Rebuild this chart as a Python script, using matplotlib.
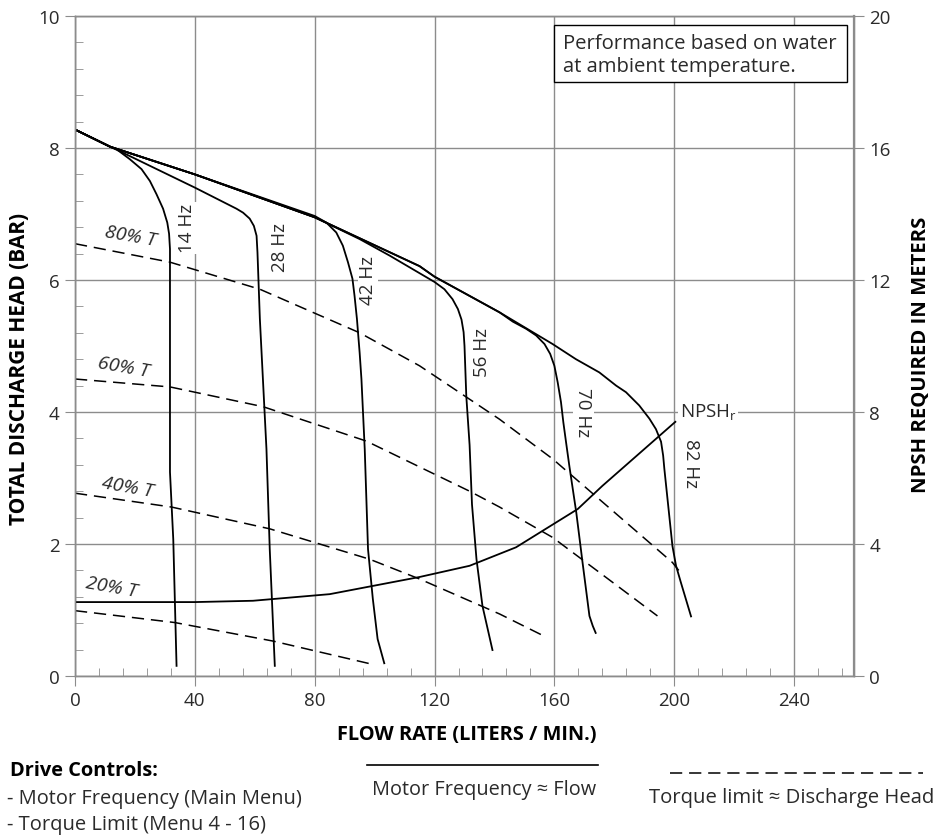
import numpy as np
import matplotlib
matplotlib.use("Agg")
from matplotlib import pyplot as plt
from matplotlib.lines import Line2D
from matplotlib.patches import Rectangle

plt.rcParams['font.family'] = ['Open Sans', 'DejaVu Sans']

# flow (l/min) vs discharge head (bar) for each motor frequency
hz14_x = [0, 11.7, 13.9, 18.3, 22.2, 25, 27.2, 29.4, 30.8, 31.4, 31.7, 31.7, 31.7, 32.8, 33.9]
hz14_y = [8.28, 8.02, 7.98, 7.83, 7.68, 7.5, 7.3, 7.08, 6.87, 6.7, 6.47, 5.41, 3.09, 2.07, 0.14]
hz28_x = [0, 11.7, 15, 40, 53.9, 56.1, 58.3, 59.7, 60.6, 60.9, 61.7, 63.9, 65, 66.7]
hz28_y = [8.28, 8.02, 7.95, 7.4, 7.08, 7.02, 6.93, 6.82, 6.67, 6.42, 5.41, 3.44, 1.92, 0.14]
hz42_x = [0, 11.7, 40, 80, 83.9, 87.2, 89.4, 91.1, 92.6, 93.3, 94.1, 95, 95.6, 96.7, 97.8, 99.4, 101, 103.3]
hz42_y = [8.28, 8.02, 7.6, 6.97, 6.87, 6.72, 6.52, 6.27, 6.02, 5.76, 5.41, 4.9, 4.5, 3.44, 1.92, 1.17, 0.56, 0.18]
hz56_x = [0, 11.7, 40, 80, 95, 105, 120, 123.3, 126, 127.8, 129, 129.7, 130, 130.6, 131.7, 132.5, 134, 136, 139.4]
hz56_y = [8.28, 8.02, 7.6, 6.95, 6.62, 6.37, 5.97, 5.86, 5.71, 5.56, 5.4, 5.21, 5.0, 4.24, 3.5, 2.6, 1.77, 1.06, 0.38]
hz70_x = [0, 11.7, 40, 80, 115, 120, 141.7, 146.1, 150.6, 153.9, 156.7, 158.6, 160, 161.1, 162.2,
          163, 163.9, 165, 167.3, 169.4, 171.7, 172.8, 173.9]
hz70_y = [8.28, 8.02, 7.6, 6.95, 6.21, 6.05, 5.51, 5.37, 5.26, 5.16, 5.03, 4.88, 4.7, 4.45, 4.15,
          3.84, 3.54, 3.18, 2.48, 1.72, 0.91, 0.76, 0.64]
hz82_x = [0, 11.7, 40, 80, 115, 120, 141.7, 159.4, 167.2, 175, 180.6, 183.9, 188.3, 191.7, 193.9,
          195.6, 196.3, 196.7, 197.3, 199.4, 200.6, 202.2, 205.7]
hz82_y = [8.28, 8.02, 7.6, 6.95, 6.21, 6.05, 5.51, 5.03, 4.8, 4.6, 4.4, 4.3, 4.1, 3.9, 3.74,
          3.55, 3.34, 3.14, 2.88, 1.97, 1.67, 1.42, 0.89]

# torque limit lines
t80_x = [0, 31.7, 61.7, 95, 115, 141.7, 159.4, 199.4, 201.5]
t80_y = [6.55, 6.27, 5.86, 5.2, 4.7, 3.89, 3.29, 1.72, 1.6]
t60_x = [0, 31.7, 62.8, 97.2, 131.7, 141.7, 159.4, 175, 194.4]
t60_y = [4.5, 4.38, 4.08, 3.56, 2.8, 2.56, 2.1, 1.57, 0.91]
t40_x = [0, 32.2, 65, 98.3, 115, 141.7, 157.2]
t40_y = [2.77, 2.56, 2.23, 1.77, 1.47, 0.94, 0.59]
t20_x = [0, 33.3, 66, 99]
t20_y = [0.99, 0.81, 0.53, 0.18]

# NPSH required (meters)
npsh_x = [0, 40, 59.4, 85, 115, 131.7, 147.2, 167.8, 176, 200.6]
npsh_m = [2.24, 2.24, 2.28, 2.48, 3.0, 3.34, 3.9, 5.06, 5.76, 7.72]

W, H = 950, 837
fig = plt.figure(figsize=(W / 100, H / 100), dpi=100)
ax = fig.add_axes([75 / W, 1 - 677 / H, 779 / W, 660 / H])
ax2 = ax.twinx()

grey = '#8c8c8c'
txt = '#2a2a2a'


def fit(t, target, dim='w'):
    # scale a text's font so that its drawn size matches the reference (px)
    fig.canvas.draw()
    bb = t.get_window_extent()
    cur = bb.width if dim == 'w' else bb.height
    t.set_fontsize(t.get_fontsize() * target / cur)


ax.set_xlim(0, 260)
ax.set_ylim(0, 10)
ax2.set_ylim(0, 20)
ax.set_xticks([0, 40, 80, 120, 160, 200, 240])
ax.set_xticks(np.arange(0, 261, 8), minor=True)
ax.set_yticks([0, 2, 4, 6, 8, 10])
ax.set_yticks(np.arange(0, 10.01, 0.4), minor=True)
ax2.set_yticks([0, 4, 8, 12, 16, 20])
ax.grid(True, which='major', color=grey, lw=1.0)
ax.set_axisbelow(True)
ax.tick_params(which='major', direction='out', length=7, color=grey, labelsize=13.5,
               labelcolor=txt, pad=4)
ax.tick_params(which='minor', direction='in', length=6, color=grey)
ax2.tick_params(which='major', direction='out', length=7, color=grey, labelsize=13.5,
                labelcolor=txt, pad=4)
for a in (ax, ax2):
    for s in a.spines.values():
        s.set_color(grey)
        s.set_linewidth(1.0)
ax2.spines['right'].set_linewidth(1.6)

kw = dict(color='black', lw=1.3, solid_capstyle='butt', solid_joinstyle='round')
for xs, ys in [(hz14_x, hz14_y), (hz28_x, hz28_y), (hz42_x, hz42_y),
               (hz56_x, hz56_y), (hz70_x, hz70_y), (hz82_x, hz82_y)]:
    ax.plot(xs, ys, **kw)

dash = (0, (8, 4.5))
for xs, ys in [(t80_x, t80_y), (t60_x, t60_y), (t40_x, t40_y), (t20_x, t20_y)]:
    ax.plot(xs, ys, color='black', lw=1.1, linestyle=dash)

ax2.plot(npsh_x, npsh_m, **kw)

# curve labels
box = dict(facecolor='white', edgecolor='none', pad=1)
hz_kw = dict(ha='center', va='center', fontsize=13.5, color=txt, bbox=box)
ax.text(37.5, 6.79, '14 Hz', rotation=90, **hz_kw)
ax.text(68.5, 6.5, '28 Hz', rotation=90, **hz_kw)
ax.text(97.8, 6.0, '42 Hz', rotation=90, **hz_kw)
ax.text(135.8, 4.92, '56 Hz', rotation=90, **hz_kw)
ax.text(169.7, 4.0, '70 Hz', rotation=-90, **hz_kw)
ax.text(205.5, 3.23, '82 Hz', rotation=-90, **hz_kw)
ax.text(201.8, 4.0, r'NPSH$_\mathregular{r}$', ha='left', va='center', fontsize=13.5,
        color=txt, bbox=box)

for lab, x, y in [('80% T', 18.6, 6.67), ('60% T', 16.3, 4.69), ('40% T', 17.5, 2.87),
                  ('20% T', 12.3, 1.36)]:
    ax.text(x, y, lab, rotation=-10, ha='center', va='center', fontsize=14,
            style='italic', color=txt)

# note box
fig.add_artist(Rectangle((554 / W, 1 - 83 / H), 293 / W, 57 / H, transform=fig.transFigure,
                         facecolor='white', edgecolor='black', lw=1.0))
note = fig.text(563 / W, 1 - 55.5 / H, 'Performance based on water\nat ambient temperature.',
                ha='left', va='center', fontsize=14, color=txt, linespacing=1.25)
fit(note, 275)

ylab = fig.text(19.5 / W, 1 - 369 / H, 'TOTAL DISCHARGE HEAD (BAR)', rotation=90,
                ha='center', va='center', fontsize=13, fontweight='bold', color='black')
fit(ylab, 312, 'h')
ylab2 = fig.text(921 / W, 1 - 354.5 / H, 'NPSH REQUIRED IN METERS', rotation=90,
                 ha='center', va='center', fontsize=13, fontweight='bold', color='black')
fit(ylab2, 275, 'h')
xlab = fig.text(467 / W, 1 - 735 / H, 'FLOW RATE (LITERS / MIN.)', ha='center', va='center',
                fontsize=14, fontweight='bold', color='black')
fit(xlab, 262)

# line style key
fig.add_artist(Line2D([367 / W, 598 / W], [1 - 766 / H, 1 - 766 / H], color='black', lw=1.2))
t1 = fig.text(484 / W, 1 - 790 / H, 'Motor Frequency \u2248 Flow', ha='center', va='center',
              fontsize=14, color=txt)
fit(t1, 225)
fig.add_artist(Line2D([670 / W, 923 / W], [1 - 774 / H, 1 - 774 / H], color='black', lw=1.1,
                      linestyle=dash))
t2 = fig.text(792 / W, 1 - 798 / H, 'Torque limit \u2248 Discharge Head', ha='center',
              va='center', fontsize=14, color=txt)
fit(t2, 286)

d0 = fig.text(10 / W, 1 - 771 / H, 'Drive Controls:', ha='left', va='center', fontsize=14,
              fontweight='bold', color='black')
fit(d0, 149)
d1 = fig.text(7 / W, 1 - 799 / H, '- Motor Frequency (Main Menu)', ha='left', va='center',
              fontsize=14, color=txt)
fit(d1, 295)
d2 = fig.text(7 / W, 1 - 825 / H, '- Torque Limit (Menu 4 - 16)', ha='left', va='center',
              fontsize=14, color=txt)
fit(d2, 260)

fig.savefig('out.png', dpi=100)
